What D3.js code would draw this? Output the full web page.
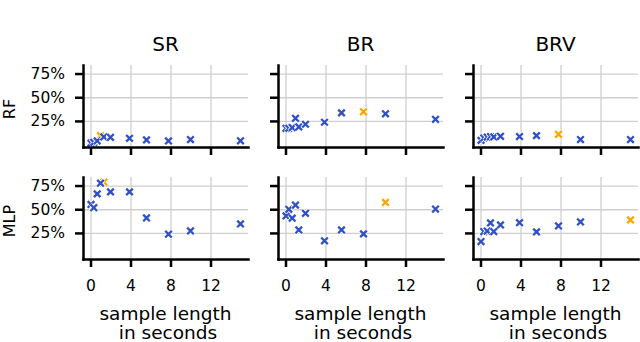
<!DOCTYPE html>
<html>
<head>
<meta charset="utf-8">
<script src="https://cdn.jsdelivr.net/npm/d3@7"></script>
<style>
  html, body { margin: 0; padding: 0; background: #fff; overflow: hidden; }
  svg { display: block; }
  text { font-family: "DejaVu Sans", sans-serif; fill: #000; }
  .grid line { stroke: #cfcfcf; stroke-width: 1.3; }
  .axis .domain { stroke: #000; stroke-width: 2.5; stroke-linecap: square; }
  .axis .tick line { stroke: #000; stroke-width: 2.5; }
</style>
</head>
<body>
<div id="main"></div>
<script>
// sample lengths (seconds), shared by all panels
const sampleLengths = [0.05, 0.33, 0.67, 1.0, 1.33, 2.0, 3.9, 5.6, 7.8, 10.0, 15.0];
const features = ['SR', 'BR', 'BRV'];
const models = ['RF', 'MLP'];

// scores in percent, one array per panel
const rfSR = [1.6, 2.4, 3.9, 9.5, 8.1, 7.7, 6.7, 5.0, 3.9, 5.3, 4.0];
const rfBR = [17.2, 17.2, 18.0, 27.8, 18.7, 21.5, 23.6, 33.5, 34.6, 32.5, 26.7];
const rfBRV = [4.5, 7.0, 8.0, 8.5, 8.1, 8.8, 8.5, 9.5, 10.9, 5.3, 5.3];
const mlpSR = [55.1, 51.6, 66.2, 77.5, 78.5, 68.3, 68.3, 40.8, 23.7, 27.1, 34.5];
const mlpBR = [42.9, 49.9, 40.5, 54.4, 28.2, 45.7, 16.7, 28.2, 24.0, 57.2, 50.2];
const mlpBRV = [15.9, 26.4, 27.0, 35.5, 26.4, 33.4, 35.8, 26.1, 32.4, 36.6, 38.7];

// index of the best sample length in each panel (drawn in orange)
const bestRF = [3, 8, 8];
const bestMLP = [4, 9, 10];

const xTicks = [0, 4, 8, 12];
const yTicks = [25, 50, 75];

const width = 640;
const height = 342;
const svg = d3.select('#main')
  .append('svg')
  .attr('width', width)
  .attr('height', height)
  .attr('viewBox', [0, 0, width, height]);

const panelLefts = [83, 278, 473];
const panelTops = [65, 177];
const innerWidth = 165;
const innerHeight = 82;

const blue = '#3050c8';
const orange = '#ffa500';

const rows = [
  [rfSR, rfBR, rfBRV],
  [mlpSR, mlpBR, mlpBRV]
];
const best = [bestRF, bestMLP];

const xScale = d3.scaleLinear().domain([-0.75, 15.75]).range([0, innerWidth]);
const yScale = d3.scaleLinear().domain([-2.5, 84]).range([innerHeight, 0]);

const marker = 'M-3.3,-3.3L3.3,3.3M-3.3,3.3L3.3,-3.3';

const drawPoint = (g, x, y, color) => {
  const p = g.append('g').attr('transform', `translate(${xScale(x)},${yScale(y)})`);
  p.append('path').attr('d', marker)
    .attr('stroke', '#fff').attr('stroke-width', 4).attr('fill', 'none');
  p.append('path').attr('d', marker)
    .attr('stroke', color).attr('stroke-width', 2.3).attr('fill', 'none');
};

rows.forEach((row, r) => {
  row.forEach((values, c) => {
    const g = svg.append('g')
      .attr('transform', `translate(${panelLefts[c]},${panelTops[r]})`);

    // grid
    const xGrid = g.append('g').attr('class', 'grid')
      .attr('transform', `translate(0,${innerHeight})`)
      .call(d3.axisBottom(xScale).tickValues(xTicks).tickSize(-innerHeight).tickFormat(''));
    xGrid.select('.domain').remove();
    xGrid.selectAll('text').remove();
    const yGrid = g.append('g').attr('class', 'grid')
      .call(d3.axisLeft(yScale).tickValues(yTicks).tickSize(-innerWidth).tickFormat(''));
    yGrid.select('.domain').remove();
    yGrid.selectAll('text').remove();

    // points: best one first, the rest on top
    const bi = best[r][c];
    drawPoint(g, sampleLengths[bi], values[bi], orange);
    values.forEach((v, i) => {
      if (i !== bi) drawPoint(g, sampleLengths[i], v, blue);
    });

    // axes
    const xAxisG = g.append('g').attr('class', 'axis')
      .attr('transform', `translate(0,${innerHeight})`)
      .call(d3.axisBottom(xScale)
        .tickValues(xTicks)
        .tickSizeInner(8)
        .tickSizeOuter(0)
        .tickPadding(12.5)
        .tickFormat(d3.format('d')));
    xAxisG.attr('font-size', 15.5).attr('font-family', null);
    if (r === 0) xAxisG.selectAll('.tick text').remove();

    const yAxisG = g.append('g').attr('class', 'axis')
      .call(d3.axisLeft(yScale)
        .tickValues(yTicks)
        .tickSizeInner(8)
        .tickSizeOuter(0)
        .tickPadding(10)
        .tickFormat(d => d + '%'));
    yAxisG.attr('font-size', 15.5).attr('font-family', null);
    if (c !== 0) yAxisG.selectAll('.tick text').remove();

    if (r === 0) {
      g.append('text')
        .attr('x', innerWidth / 2)
        .attr('y', -14.5)
        .attr('text-anchor', 'middle')
        .attr('font-size', 20)
        .text(features[c]);
    }

    if (r === 1) {
      g.append('text')
        .attr('x', innerWidth / 2)
        .attr('y', innerHeight + 61)
        .attr('text-anchor', 'middle')
        .attr('font-size', 18.5)
        .text('sample length');
      g.append('text')
        .attr('x', innerWidth / 2 + 2.5)
        .attr('y', innerHeight + 80)
        .attr('text-anchor', 'middle')
        .attr('font-size', 18.5)
        .text('in seconds');
    }
  });

  svg.append('text')
    .attr('transform', `translate(15,${panelTops[r] + innerHeight / 2 + 3}) rotate(-90)`)
    .attr('text-anchor', 'middle')
    .attr('font-size', 16)
    .text(models[r]);
});
</script>
</body>
</html>
